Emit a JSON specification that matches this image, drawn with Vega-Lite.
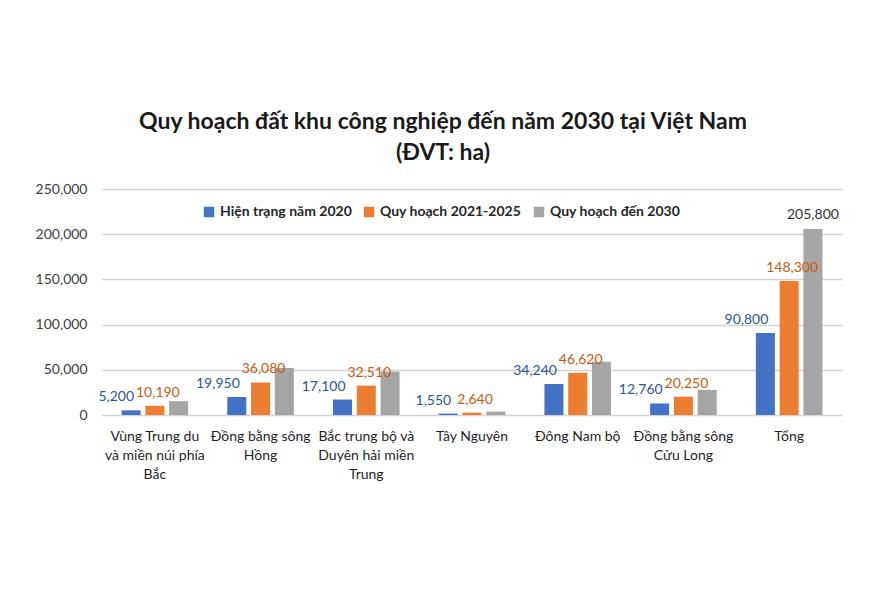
{
  "$schema": "https://vega.github.io/schema/vega-lite/v6.json",
  "width": 740,
  "height": 226,
  "autosize": "none",
  "padding": {"left": 102, "top": 189, "right": 41, "bottom": 186},
  "background": "white",
  "config": {
    "font": "Lato",
    "view": {"stroke": null}
  },
  "title": {
    "text": ["Quy hoạch đất khu công nghiệp đến năm 2030 tại Việt Nam", "(ĐVT: ha)"],
    "fontSize": 23,
    "fontWeight": "bold",
    "color": "#1a1a1a",
    "lineHeight": 31,
    "anchor": "middle",
    "dx": -29,
    "offset": 17
  },
  "data": {
    "values": [
      {"region": "Vùng Trung du|và miền núi phía|Bắc", "series": "Hiện trạng năm 2020", "value": 5200},
      {"region": "Vùng Trung du|và miền núi phía|Bắc", "series": "Quy hoạch 2021-2025", "value": 10190},
      {"region": "Vùng Trung du|và miền núi phía|Bắc", "series": "Quy hoạch đến 2030", "value": 15300},
      {"region": "Đồng bằng sông|Hồng", "series": "Hiện trạng năm 2020", "value": 19950},
      {"region": "Đồng bằng sông|Hồng", "series": "Quy hoạch 2021-2025", "value": 36080},
      {"region": "Đồng bằng sông|Hồng", "series": "Quy hoạch đến 2030", "value": 52000},
      {"region": "Bắc trung bộ và|Duyên hải miền|Trung", "series": "Hiện trạng năm 2020", "value": 17100},
      {"region": "Bắc trung bộ và|Duyên hải miền|Trung", "series": "Quy hoạch 2021-2025", "value": 32510},
      {"region": "Bắc trung bộ và|Duyên hải miền|Trung", "series": "Quy hoạch đến 2030", "value": 48000},
      {"region": "Tây Nguyên", "series": "Hiện trạng năm 2020", "value": 1550},
      {"region": "Tây Nguyên", "series": "Quy hoạch 2021-2025", "value": 2640},
      {"region": "Tây Nguyên", "series": "Quy hoạch đến 2030", "value": 3700},
      {"region": "Đông Nam bộ", "series": "Hiện trạng năm 2020", "value": 34240},
      {"region": "Đông Nam bộ", "series": "Quy hoạch 2021-2025", "value": 46620},
      {"region": "Đông Nam bộ", "series": "Quy hoạch đến 2030", "value": 59000},
      {"region": "Đồng bằng sông|Cửu Long", "series": "Hiện trạng năm 2020", "value": 12760},
      {"region": "Đồng bằng sông|Cửu Long", "series": "Quy hoạch 2021-2025", "value": 20250},
      {"region": "Đồng bằng sông|Cửu Long", "series": "Quy hoạch đến 2030", "value": 27800},
      {"region": "Tổng", "series": "Hiện trạng năm 2020", "value": 90800},
      {"region": "Tổng", "series": "Quy hoạch 2021-2025", "value": 148300},
      {"region": "Tổng", "series": "Quy hoạch đến 2030", "value": 205800}
    ]
  },
  "encoding": {
    "x": {
      "field": "region",
      "type": "nominal",
      "sort": null,
      "scale": {"paddingInner": 0.37, "paddingOuter": 0.185},
      "axis": {
        "title": null,
        "labelAngle": 0,
        "labelExpr": "split(datum.label, '|')",
        "labelFont": "Lato",
        "labelFontWeight": "normal",
        "labelFontSize": 14,
        "labelColor": "#1f1f1f",
        "labelLineHeight": 19,
        "labelPadding": 14,
        "labelBaseline": "top",
        "ticks": false,
        "domain": false,
        "labelLimit": 200
      }
    },
    "xOffset": {
      "field": "series",
      "type": "nominal",
      "sort": null,
      "scale": {"paddingInner": 0.2}
    },
    "y": {
      "field": "value",
      "type": "quantitative",
      "scale": {"domain": [0, 250000]},
      "axis": {
        "title": null,
        "values": [0, 50000, 100000, 150000, 200000, 250000],
        "labelExpr": "format(datum.value, ',')",
        "labelFontSize": 14,
        "labelColor": "#404040",
        "labelPadding": 15,
        "ticks": false,
        "domain": false,
        "gridColor": "#d4d4d4",
        "gridWidth": 1.3
      }
    }
  },
  "layer": [
    {
      "mark": {"type": "bar"},
      "encoding": {
        "color": {
          "field": "series",
          "type": "nominal",
          "sort": null,
          "scale": {"range": ["#4472C4", "#ED7D31", "#A5A5A5"]},
          "legend": {
            "title": null,
            "orient": "none",
            "direction": "horizontal",
            "legendX": 100,
            "legendY": 16,
            "symbolType": "square",
            "symbolSize": 110,
            "symbolStrokeWidth": 0,
            "labelFontSize": 14,
            "labelFontWeight": "bold",
            "labelColor": "#262626",
            "columnSpacing": 22,
            "labelOffset": 4
          }
        }
      }
    },
    {
      "transform": [{"filter": "datum.series === 'Hiện trạng năm 2020'"}],
      "mark": {"type": "text", "align": "right", "baseline": "alphabetic", "dx": 3, "dy": -9, "fontSize": 14, "color": "#2F5597"},
      "encoding": {"text": {"field": "value", "type": "quantitative", "format": ","}}
    },
    {
      "transform": [{"filter": "datum.series === 'Quy hoạch 2021-2025'"}],
      "mark": {"type": "text", "align": "center", "baseline": "alphabetic", "dx": 3, "dy": -9, "fontSize": 14, "color": "#C55A11"},
      "encoding": {"text": {"field": "value", "type": "quantitative", "format": ","}}
    },
    {
      "transform": [{"filter": "datum.series === 'Quy hoạch đến 2030' && datum.region === 'Tổng'"}],
      "mark": {"type": "text", "align": "center", "baseline": "alphabetic", "dy": -10, "fontSize": 14, "color": "#333333"},
      "encoding": {"text": {"field": "value", "type": "quantitative", "format": ","}}
    }
  ]
}
